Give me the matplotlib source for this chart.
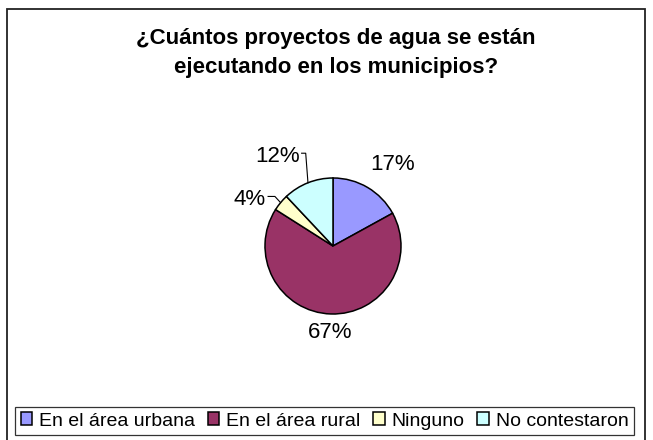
import matplotlib.pyplot as plt
import numpy as np
from matplotlib.patches import Rectangle

plt.rcParams["font.family"] = ["Liberation Sans", "DejaVu Sans"]

categorias = ["En el área urbana", "En el área rural", "Ninguno", "No contestaron"]
porcentajes = [17, 67, 4, 12]
colores = ["#9999FF", "#993366", "#FFFFCC", "#CCFFFF"]
titulo = "¿Cuántos proyectos de agua se están\nejecutando en los municipios?"

W, H = 653, 440
fig = plt.figure(figsize=(W / 100, H / 100), dpi=100)

# marco exterior del grafico
fig.patches.append(Rectangle((7 / W, -0.02), 638 / W, 1.02 - 9 / H,
                             transform=fig.transFigure, fill=False,
                             edgecolor="#222222", lw=1.3))

fig.text(336 / W, 1 - 53 / H, titulo, ha="center", va="center",
         fontsize=16, fontweight="bold", linespacing=1.45)

# pastel: centro (333, 246) px, radio 68 px
r = 68
ax = fig.add_axes([(333 - r) / W, 1 - (246 + r) / H, 2 * r / W, 2 * r / H])
wedges, _ = ax.pie(porcentajes, colors=colores, startangle=90, counterclock=False,
                   radius=1.0, wedgeprops=dict(edgecolor="black", linewidth=1.1))
ax.set_xlim(-1, 1)
ax.set_ylim(-1, 1)
ax.set_aspect("equal")
ax.axis("off")

# etiquetas de porcentaje (distancia y angulo por porcion)
pos = [(1.48, 54), (1.28, -92), (1.40, 151), (1.55, 122)]
# lineas guia: desplazamiento desde la etiqueta (inicio, codo)
guia = [None, None, (0.27, 0.37), (0.36, 0.42)]
ang0 = 90
for v, (d, a), g in zip(porcentajes, pos, guia):
    mid = ang0 - v * 3.6 / 2
    ang0 -= v * 3.6
    tx, ty = d * np.cos(np.radians(a)), d * np.sin(np.radians(a))
    if g is not None:
        ex, ey = np.cos(np.radians(mid)), np.sin(np.radians(mid))
        ax.plot([tx + g[0], tx + g[1], ex], [ty + 0.05, ty + 0.05, ey],
                color="black", lw=0.8, clip_on=False)
    ax.text(tx, ty, f"{v}%", ha="center", va="center", fontsize=16,
            clip_on=False)

leg = fig.legend(wedges, categorias, loc="center", ncol=4,
                 bbox_to_anchor=(324.5 / W, 1 - 421 / H), fontsize=14,
                 frameon=True, fancybox=False, edgecolor="black",
                 handlelength=0.6, handleheight=0.6, handletextpad=0.35,
                 columnspacing=0.65, borderpad=0.3, borderaxespad=0)
leg.get_frame().set_linewidth(0.9)

fig.savefig("out.png", dpi=100)
